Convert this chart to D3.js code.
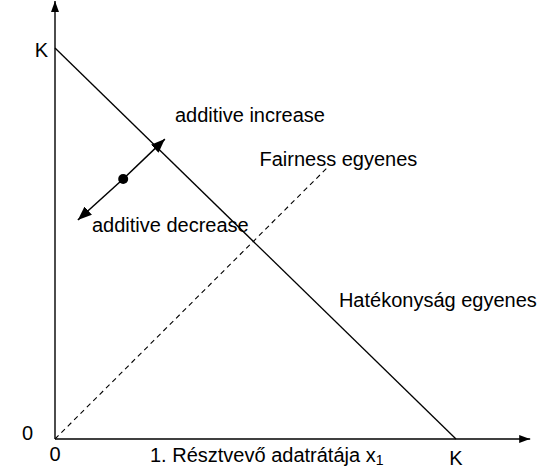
<!DOCTYPE html>
<html><head><meta charset="utf-8">
<script src="https://cdn.jsdelivr.net/npm/d3@7"></script>
<style>
body{margin:0;background:#fff}
text{font-family:"Liberation Sans",Arial,sans-serif;font-size:20px;fill:#000}
</style></head>
<body><svg id="c" width="547" height="471"></svg>
<script>
// Data (K = 1)
const axisExtent = {x: 1.185, y: 1.12};
const efficiencyLine = [[0, 1], [1, 0]];
const fairnessLine = [[0, 0], [0.68, 0.695]];
const startPoint = [0.17, 0.665];
const increaseTip = [0.274, 0.767];
const decreaseTip = [0.057, 0.56];
const xTickLabels = ["0", "K"];
const yTickLabels = ["0", "K"];
const xTickValues = [0, 1];
const yTickValues = [0, 1];
const annotations = [
  {text: "additive increase", at: [0.299, 0.811]},
  {text: "Fairness egyenes", at: [0.51, 0.698]},
  {text: "additive decrease", at: [0.092, 0.53]},
  {text: "Hatékonyság egyenes", at: [0.708, 0.338]}
];

const svg = d3.select("#c");
const x = d3.scaleLinear().domain([0, 1]).range([55, 456]);
const y = d3.scaleLinear().domain([0, 1]).range([439, 48]);

const defs = svg.append("defs");
function marker(id, len, wid) {
  defs.append("marker").attr("id", id).attr("viewBox", `0 0 ${len} ${wid}`)
    .attr("refX", len).attr("refY", wid / 2)
    .attr("markerWidth", len).attr("markerHeight", wid)
    .attr("markerUnits", "userSpaceOnUse").attr("orient", "auto")
    .append("path").attr("d", `M0,0L${len},${wid/2}L0,${wid}Z`).attr("fill", "#000");
}
marker("ax", 11, 8);
marker("ar", 14, 11);

const line = d3.line().x(d => x(d[0])).y(d => y(d[1]));

// axes
svg.append("path").attr("d", line([[0, 0], [axisExtent.x, 0]]))
  .attr("stroke", "#000").attr("stroke-width", 1.4).attr("fill", "none").attr("marker-end", "url(#ax)");
svg.append("path").attr("d", line([[0, 0], [0, axisExtent.y]]))
  .attr("stroke", "#000").attr("stroke-width", 1.4).attr("fill", "none").attr("marker-end", "url(#ax)");

// efficiency line
svg.append("path").attr("d", line(efficiencyLine))
  .attr("stroke", "#000").attr("stroke-width", 1.3).attr("fill", "none");
// fairness line
svg.append("path").attr("d", line(fairnessLine))
  .attr("stroke", "#000").attr("stroke-width", 1.1).attr("stroke-dasharray", "5,4").attr("fill", "none");

// arrows
svg.append("path").attr("d", line([startPoint, increaseTip]))
  .attr("stroke", "#000").attr("stroke-width", 1.5).attr("fill", "none").attr("marker-end", "url(#ar)");
svg.append("path").attr("d", line([startPoint, decreaseTip]))
  .attr("stroke", "#000").attr("stroke-width", 1.5).attr("fill", "none").attr("marker-end", "url(#ar)");
svg.append("circle").attr("cx", x(startPoint[0])).attr("cy", y(startPoint[1])).attr("r", 5).attr("fill", "#000");

// tick labels
svg.selectAll(".xt").data(xTickValues).enter().append("text")
  .attr("x", d => x(d)).attr("y", (d, i) => i === 0 ? 461 : 465)
  .attr("text-anchor", "middle").text((d, i) => xTickLabels[i]);
svg.selectAll(".yt").data(yTickValues).enter().append("text")
  .attr("x", d => d === 0 ? 33 : 48).attr("y", d => y(d) + (d === 0 ? 1 : 9))
  .attr("text-anchor", "end").text((d, i) => yTickLabels[i]);

// x axis title
const t = svg.append("text").attr("x", 150).attr("y", 462);
t.append("tspan").text("1. Résztvevő adatrátája x");
t.append("tspan").attr("dy", 3).style("font-size", "14px").text("1");

// annotations
svg.selectAll(".ann").data(annotations).enter().append("text")
  .attr("x", d => x(d.at[0])).attr("y", d => y(d.at[1])).text(d => d.text);
</script></body></html>
